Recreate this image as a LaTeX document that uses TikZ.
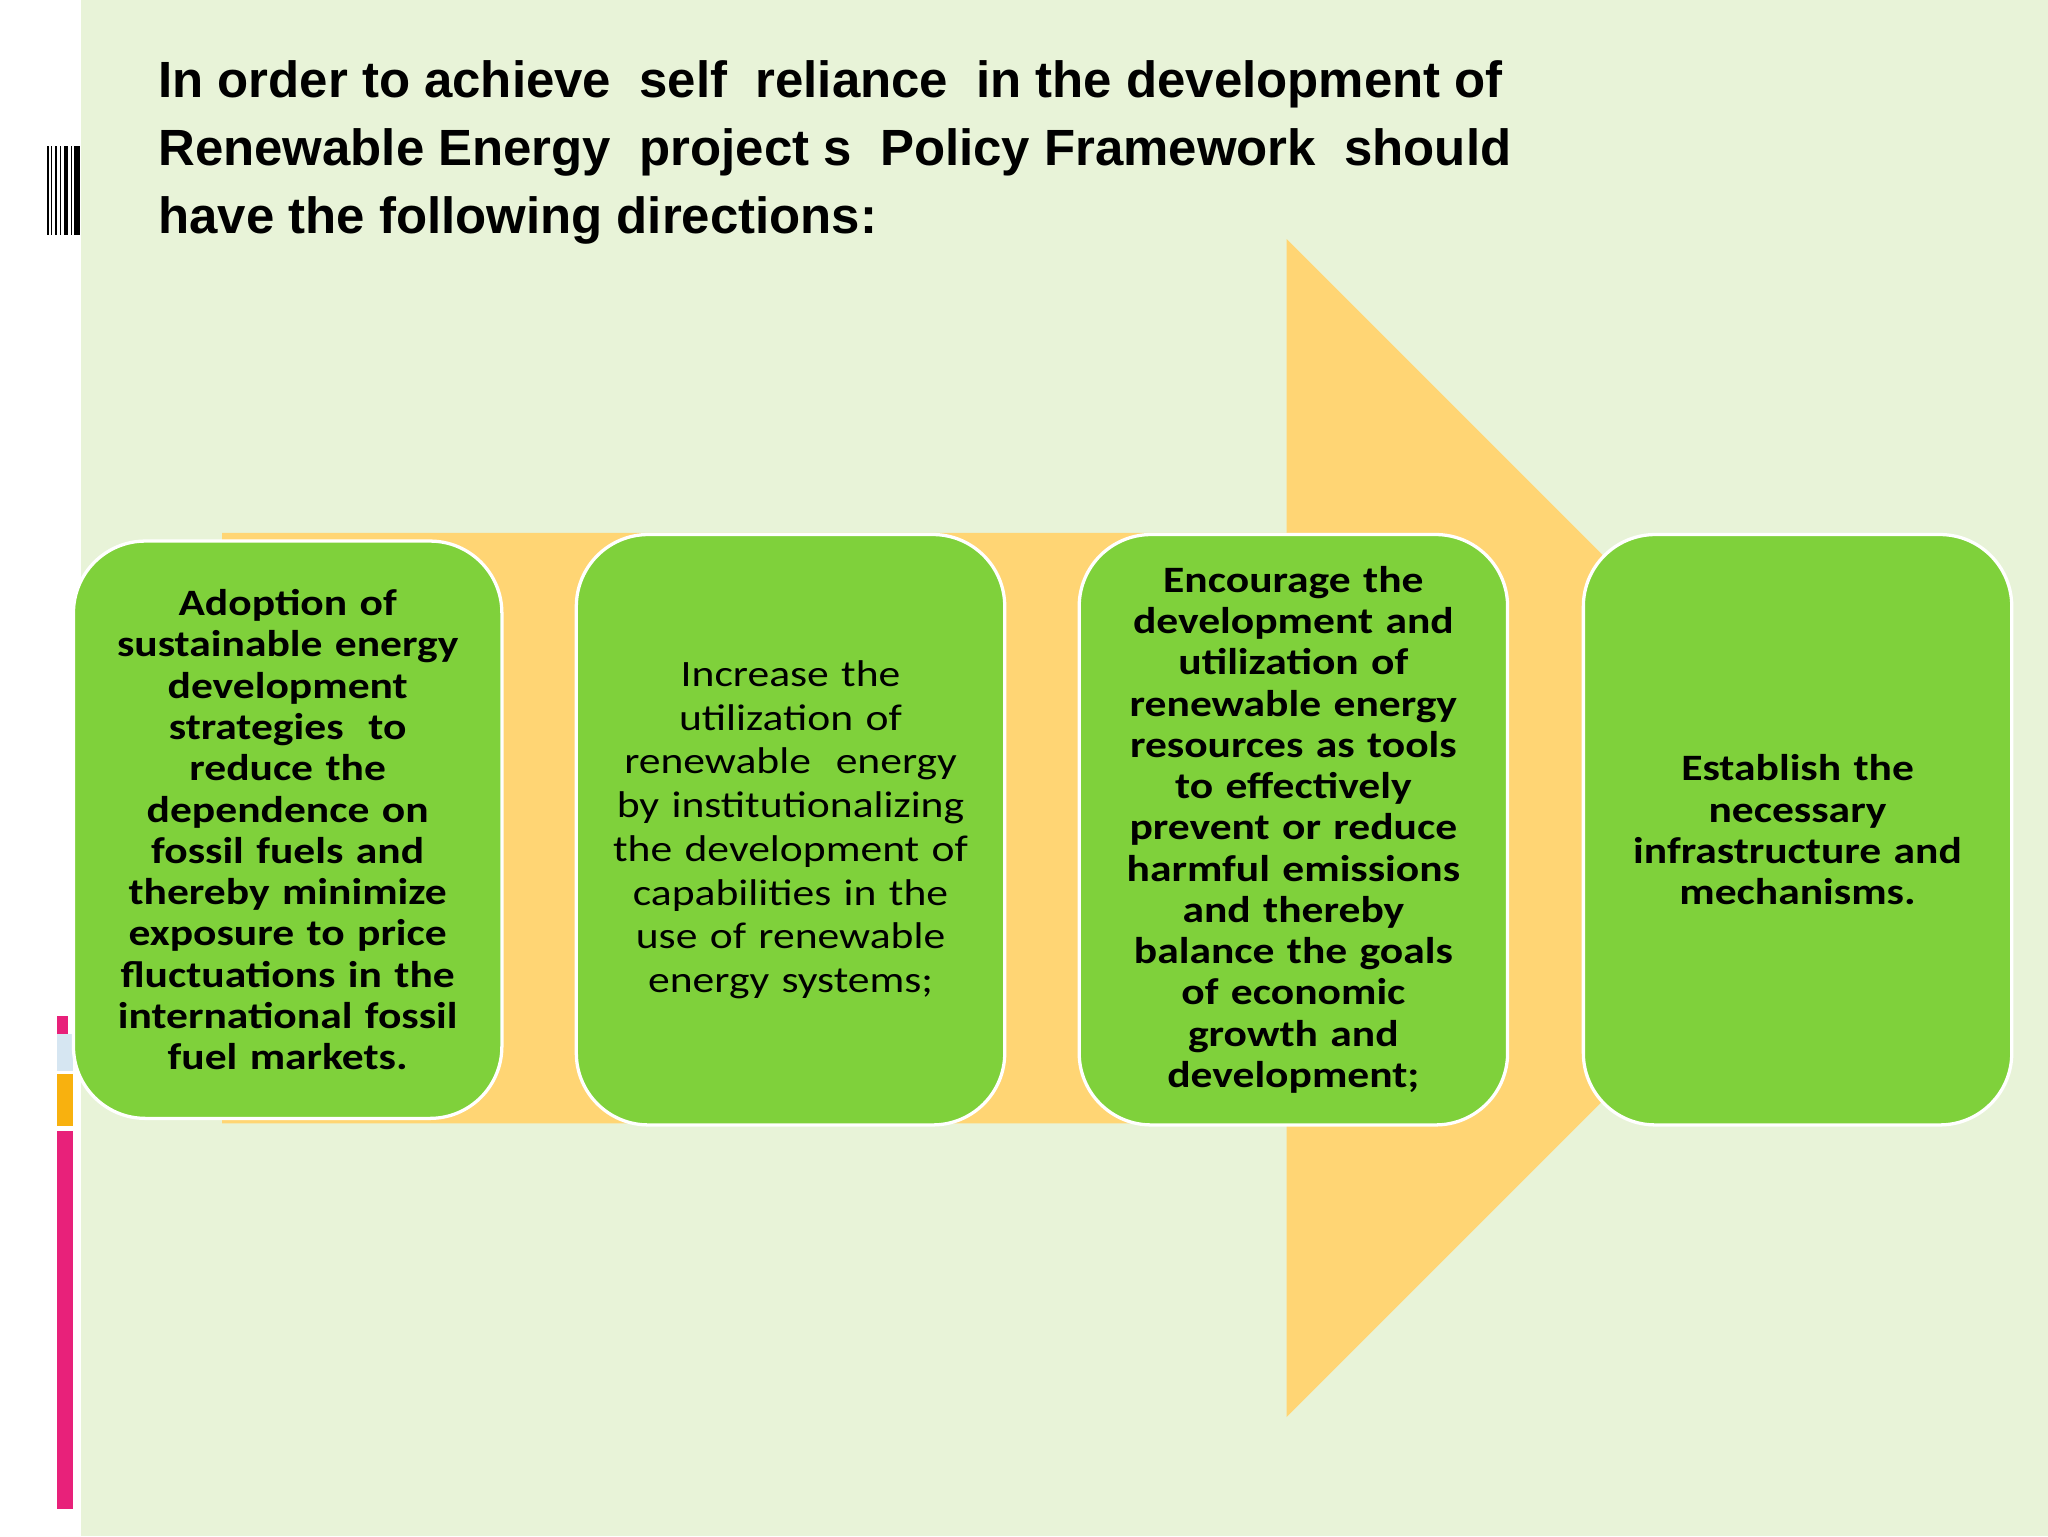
\documentclass[tikz,border=0pt]{standalone}
\usepackage{fontspec}
\setmainfont{Carlito}[FakeStretch=1.17]
\newfontfamily\titlefont{Liberation Sans}
\definecolor{bgg}{HTML}{E8F3D8}
\definecolor{arr}{HTML}{FFD574}
\definecolor{boxg}{HTML}{7FD13B}
\definecolor{pinkb}{HTML}{E8217A}
\definecolor{orab}{HTML}{F8B10F}
\definecolor{blub}{HTML}{D6E6F2}
\begin{document}
\begin{tikzpicture}[x=1pt,y=-1pt,
  gbox/.style={draw=white,line width=2.5pt,fill=boxg,rounded corners=55pt,minimum width=328pt,minimum height=444pt,anchor=north west,align=center,text width=310pt,font=\fontsize{28.5}{31.6}\selectfont}]
\useasboundingbox (0,0) rectangle (1568,1176);
\fill[white] (0,0) rectangle (1568,1176);
\fill[bgg] (62,0) rectangle (1568,1176);
% left bars
\fill[pinkb] (44,778) rectangle (52,792);
\fill[blub] (44,792) rectangle (56,820);
\fill[orab] (44,822) rectangle (56,862);
\fill[pinkb] (44,866) rectangle (56,1155);
\foreach \xx/\ww in {36/1.5,39/1,42/2,46/1,49/3,54/1.5,57/4}{\fill[black] (\xx,112) rectangle (\xx+\ww,180);}
% title
\node[anchor=north west,align=left,font=\titlefont\bfseries\fontsize{39}{52}\selectfont,inner sep=0pt] (title) at (121,46)
 {In order to achieve \ self \ reliance \ in the development of\\Renewable Energy \ project s \ Policy Framework \ should\\have the following directions:};
% arrow
\fill[arr] (170,408) -- (985,408) -- (985,183) -- (1436,634) -- (985,1085) -- (985,860) -- (170,860) -- cycle;
\node[gbox,minimum height=442pt] (b1) at (55,413) {\bfseries Adoption of\\sustainable energy\\development\\strategies \ to\\reduce the\\dependence on\\fossil fuels and\\thereby minimize\\exposure to price\\fluctuations in the\\international fossil\\fuel markets.};
\node[gbox,minimum height=452pt,font=\fontsize{28.5}{33.5}\selectfont] (b2) at (440,408) {Increase the\\utilization of\\renewable \ energy\\by institutionalizing\\the development of\\capabilities in the\\use of renewable\\energy systems;};
\node[gbox,minimum height=452pt] (b3) at (825,408) {\bfseries Encourage the\\development and\\utilization of\\renewable energy\\resources as tools\\to effectively\\prevent or reduce\\harmful emissions\\and thereby\\balance the goals\\of economic\\growth and\\development;};
\node[gbox,minimum height=452pt] (b4) at (1211,408) {\bfseries Establish the\\necessary\\infrastructure and\\mechanisms.};
\end{tikzpicture}
\end{document}
